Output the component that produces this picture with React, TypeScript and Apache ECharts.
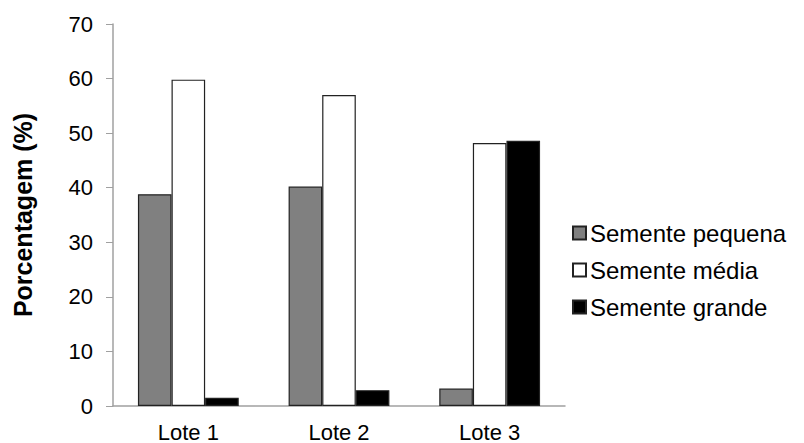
import React, { useEffect, useRef } from "react";
import * as echarts from "echarts";

const categories = ["Lote 1", "Lote 2", "Lote 3"];
const seriesNames = ["Semente pequena", "Semente média", "Semente grande"];
const pequena = [38.8, 40.2, 3.2];
const media = [59.8, 57.0, 48.2];
const grande = [1.5, 2.9, 48.6];
const colors = ["#808080", "#ffffff", "#000000"];
const yTitle = "Porcentagem (%)";

export default function App() {
  const ref = useRef<HTMLDivElement>(null);
  useEffect(() => {
    const chart = echarts.init(ref.current!, null, { renderer: "svg" });
    const font = "Arial, 'Liberation Sans', sans-serif";
    const data = [pequena, media, grande];
    chart.setOption({
      animation: false,
      textStyle: { fontFamily: font },
      grid: { left: 113, right: 239, top: 24, bottom: 36 },
      legend: {
        orient: "vertical",
        left: 572,
        top: 221,
        padding: 0,
        itemWidth: 13,
        itemHeight: 13,
        itemGap: 13,
        icon: "rect",
        textStyle: { fontSize: 24, color: "#000", fontFamily: font, padding: [0, 0, 0, -1] },
        data: seriesNames,
      },
      xAxis: {
        type: "category",
        data: categories,
        axisLine: { lineStyle: { color: "#a0a0a0", width: 1.5 } },
        axisTick: { show: false },
        axisLabel: { fontSize: 22, color: "#000", margin: 15 },
      },
      yAxis: {
        type: "value",
        min: 0,
        max: 70,
        interval: 10,
        name: yTitle,
        nameLocation: "middle",
        nameGap: 78,
        nameTextStyle: { fontSize: 25, fontWeight: "bold", color: "#000" },
        axisLine: { show: true, lineStyle: { color: "#a0a0a0", width: 1.5 } },
        axisTick: { show: true, length: 7, lineStyle: { color: "#a0a0a0" } },
        axisLabel: { fontSize: 22, color: "#000", margin: 20 },
        splitLine: { show: false },
      },
      series: seriesNames.map((n, i) => ({
        name: n,
        type: "bar",
        data: data[i],
        barWidth: 33.6,
        barGap: "0%",
        itemStyle: { color: colors[i], borderColor: "#222", borderWidth: 1.2 },
      })),
    });
    return () => chart.dispose();
  }, []);
  return <div ref={ref} style={{ width: 804, height: 443, position: "absolute", left: 0, top: 0, background: "#fff" }} />;
}
